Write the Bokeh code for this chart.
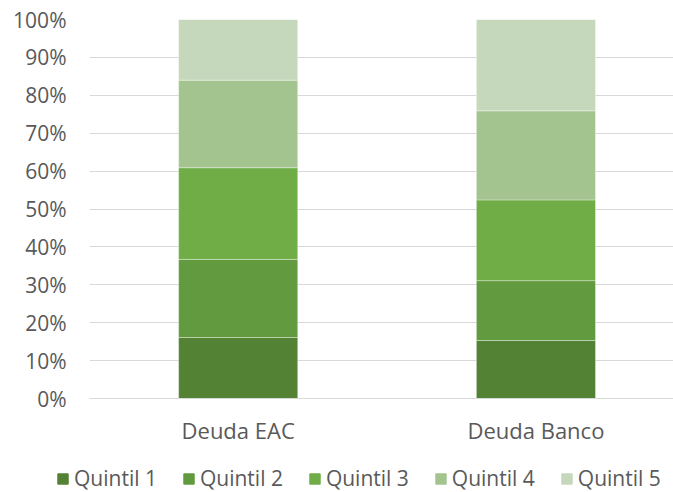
from bokeh.plotting import figure
from bokeh.models import Legend, LegendItem, NumeralTickFormatter, FixedTicker, Range1d
from bokeh.embed import file_html
from bokeh.resources import INLINE

categories = ["Deuda EAC", "Deuda Banco"]
series = ["Quintil 1", "Quintil 2", "Quintil 3", "Quintil 4", "Quintil 5"]
q1 = [0.161, 0.153]
q2 = [0.206, 0.158]
q3 = [0.242, 0.213]
q4 = [0.231, 0.235]
q5 = [0.160, 0.241]
colors = ["#548235", "#629a3f", "#70ad47", "#a3c48f", "#c5d8bb"]
y_ticks = [i / 10 for i in range(11)]

FONT = "Open Sans"
TXT = "#595959"

# category slots: category i sits at the centre of slot [i, i+1]
xpos = [i + 0.5 for i in range(len(categories))]
data = dict(x=xpos)
for name, vals in zip(series, [q1, q2, q3, q4, q5]):
    data[name] = vals

p = figure(width=673, height=452, output_backend="svg", toolbar_location=None,
           x_range=Range1d(0.0007, 1.962), y_range=Range1d(0, 1))
p.min_border_left = 89
p.min_border_right = 0
p.min_border_top = 19
p.min_border_bottom = 54
p.outline_line_color = None
p.background_fill_color = "white"

rs = p.vbar_stack(series, x="x", width=0.4, source=data, color=colors,
                  line_color="white", line_alpha=0.35, line_width=1)

p.yaxis.ticker = FixedTicker(ticks=y_ticks)
p.yaxis.formatter = NumeralTickFormatter(format="0%")
p.yaxis.axis_line_color = None
p.yaxis.major_tick_line_color = None
p.yaxis.minor_tick_line_color = None
p.yaxis.major_tick_out = 0
p.yaxis.major_tick_in = 0
p.yaxis.major_label_standoff = 23
p.yaxis.major_label_text_font = FONT
p.yaxis.major_label_text_font_size = "21px"
p.yaxis.major_label_text_color = TXT

p.xaxis.ticker = FixedTicker(ticks=xpos)
p.xaxis.major_label_overrides = {x: c for x, c in zip(xpos, categories)}
p.xaxis.axis_line_color = "#d9d9d9"
p.xaxis.major_tick_line_color = None
p.xaxis.minor_tick_line_color = None
p.xaxis.major_tick_out = 0
p.xaxis.major_tick_in = 0
p.xaxis.major_label_standoff = 16
p.xaxis.major_label_text_font = FONT
p.xaxis.major_label_text_font_size = "22px"
p.xaxis.major_label_text_color = TXT

p.xgrid.grid_line_color = None
p.ygrid.grid_line_color = "#d9d9d9"
p.ygrid.grid_line_width = 1

# legend strip (separate root so its frame is not aligned with the chart's)
pl = figure(width=673, height=40, output_backend="svg", toolbar_location=None,
            x_range=Range1d(0, 2), y_range=Range1d(5, 6),
            x_axis_type=None, y_axis_type=None)
pl.min_border = 0
pl.min_border_left = 0
pl.min_border_right = 0
pl.min_border_top = 0
pl.min_border_bottom = 0
pl.outline_line_color = None
pl.xgrid.visible = False
pl.ygrid.visible = False
rl = pl.vbar_stack(series, x="x", width=0.4, source=data, color=colors)

legend = Legend(items=[LegendItem(label=n, renderers=[r]) for n, r in zip(series, rl)],
                location=(56, 0), orientation="horizontal",
                glyph_width=13, glyph_height=13, label_standoff=5, spacing=25,
                padding=0, margin=0, border_line_color=None,
                background_fill_alpha=0,
                label_text_font=FONT, label_text_font_size="21px",
                label_text_color=TXT)
pl.add_layout(legend, "center")

open("out.html", "w").write(file_html([p, pl], INLINE))
